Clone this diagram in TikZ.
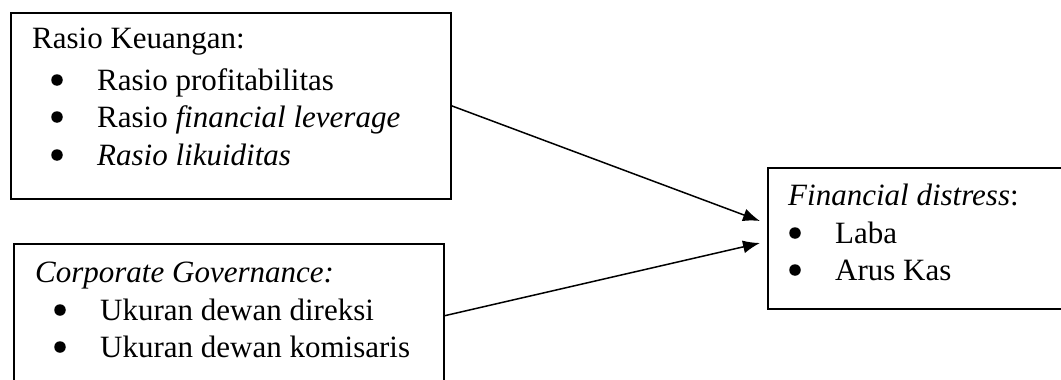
\documentclass[tikz,border=0pt]{standalone}
\usepackage{fontspec}
\setmainfont{Liberation Serif}
\usetikzlibrary{arrows.meta}
\begin{document}
\begin{tikzpicture}[x=1pt,y=-1pt,
  box/.style={draw, line width=1.5pt, rectangle, inner sep=0pt, anchor=north west},
  txt/.style={inner sep=0pt, anchor=base west, font=\fontsize{31}{38}\selectfont},
  bul/.style={circle, fill=black, inner sep=0pt, minimum size=11.5pt},
  conn/.style={line width=1.5pt, -{Latex[length=17pt,width=13pt]}}]
\useasboundingbox (0,0) rectangle (1061,380);
\clip (0,0) rectangle (1061,380);
% boxes
\node[box, minimum width=440pt, minimum height=186pt] (b1) at (10,12) {};
\node[box, minimum width=430pt, minimum height=144pt] (b2) at (13,243) {};
\node[box, minimum width=320pt, minimum height=141pt] (b3) at (767,167) {};
% box 1 text
\node[txt] (h1) at (32,48) {Rasio Keuangan:};
\node[bul] (p1) at (57,80) {};
\node[bul] (p2) at (57,117) {};
\node[bul] (p3) at (57,155) {};
\node[txt] (i1) at (97,90) {Rasio profitabilitas};
\node[txt] (i2) at (97,127) {Rasio \textit{financial leverage}};
\node[txt] (i3) at (97,165) {\textit{Rasio likuiditas}};
% box 2 text
\node[txt] (h2) at (35,282) {\textit{Corporate Governance:}};
\node[bul] (q1) at (60,310) {};
\node[bul] (q2) at (60,347) {};
\node[txt] (j1) at (100,320) {Ukuran dewan direksi};
\node[txt] (j2) at (100,357) {Ukuran dewan komisaris};
% box 3 text
\node[txt] (h3) at (788,205) {\textit{Financial distress}:};
\node[bul] (r1) at (795,233) {};
\node[bul] (r2) at (795,270) {};
\node[txt] (k1) at (835,243) {Laba};
\node[txt] (k2) at (835,280) {Arus Kas};
% connectors
\coordinate (t1) at (760,221);
\coordinate (t2) at (760,243);
\draw[conn] (b1.east) -- (t1);
\draw[conn] (b2.east) -- (t2);
\end{tikzpicture}
\end{document}
